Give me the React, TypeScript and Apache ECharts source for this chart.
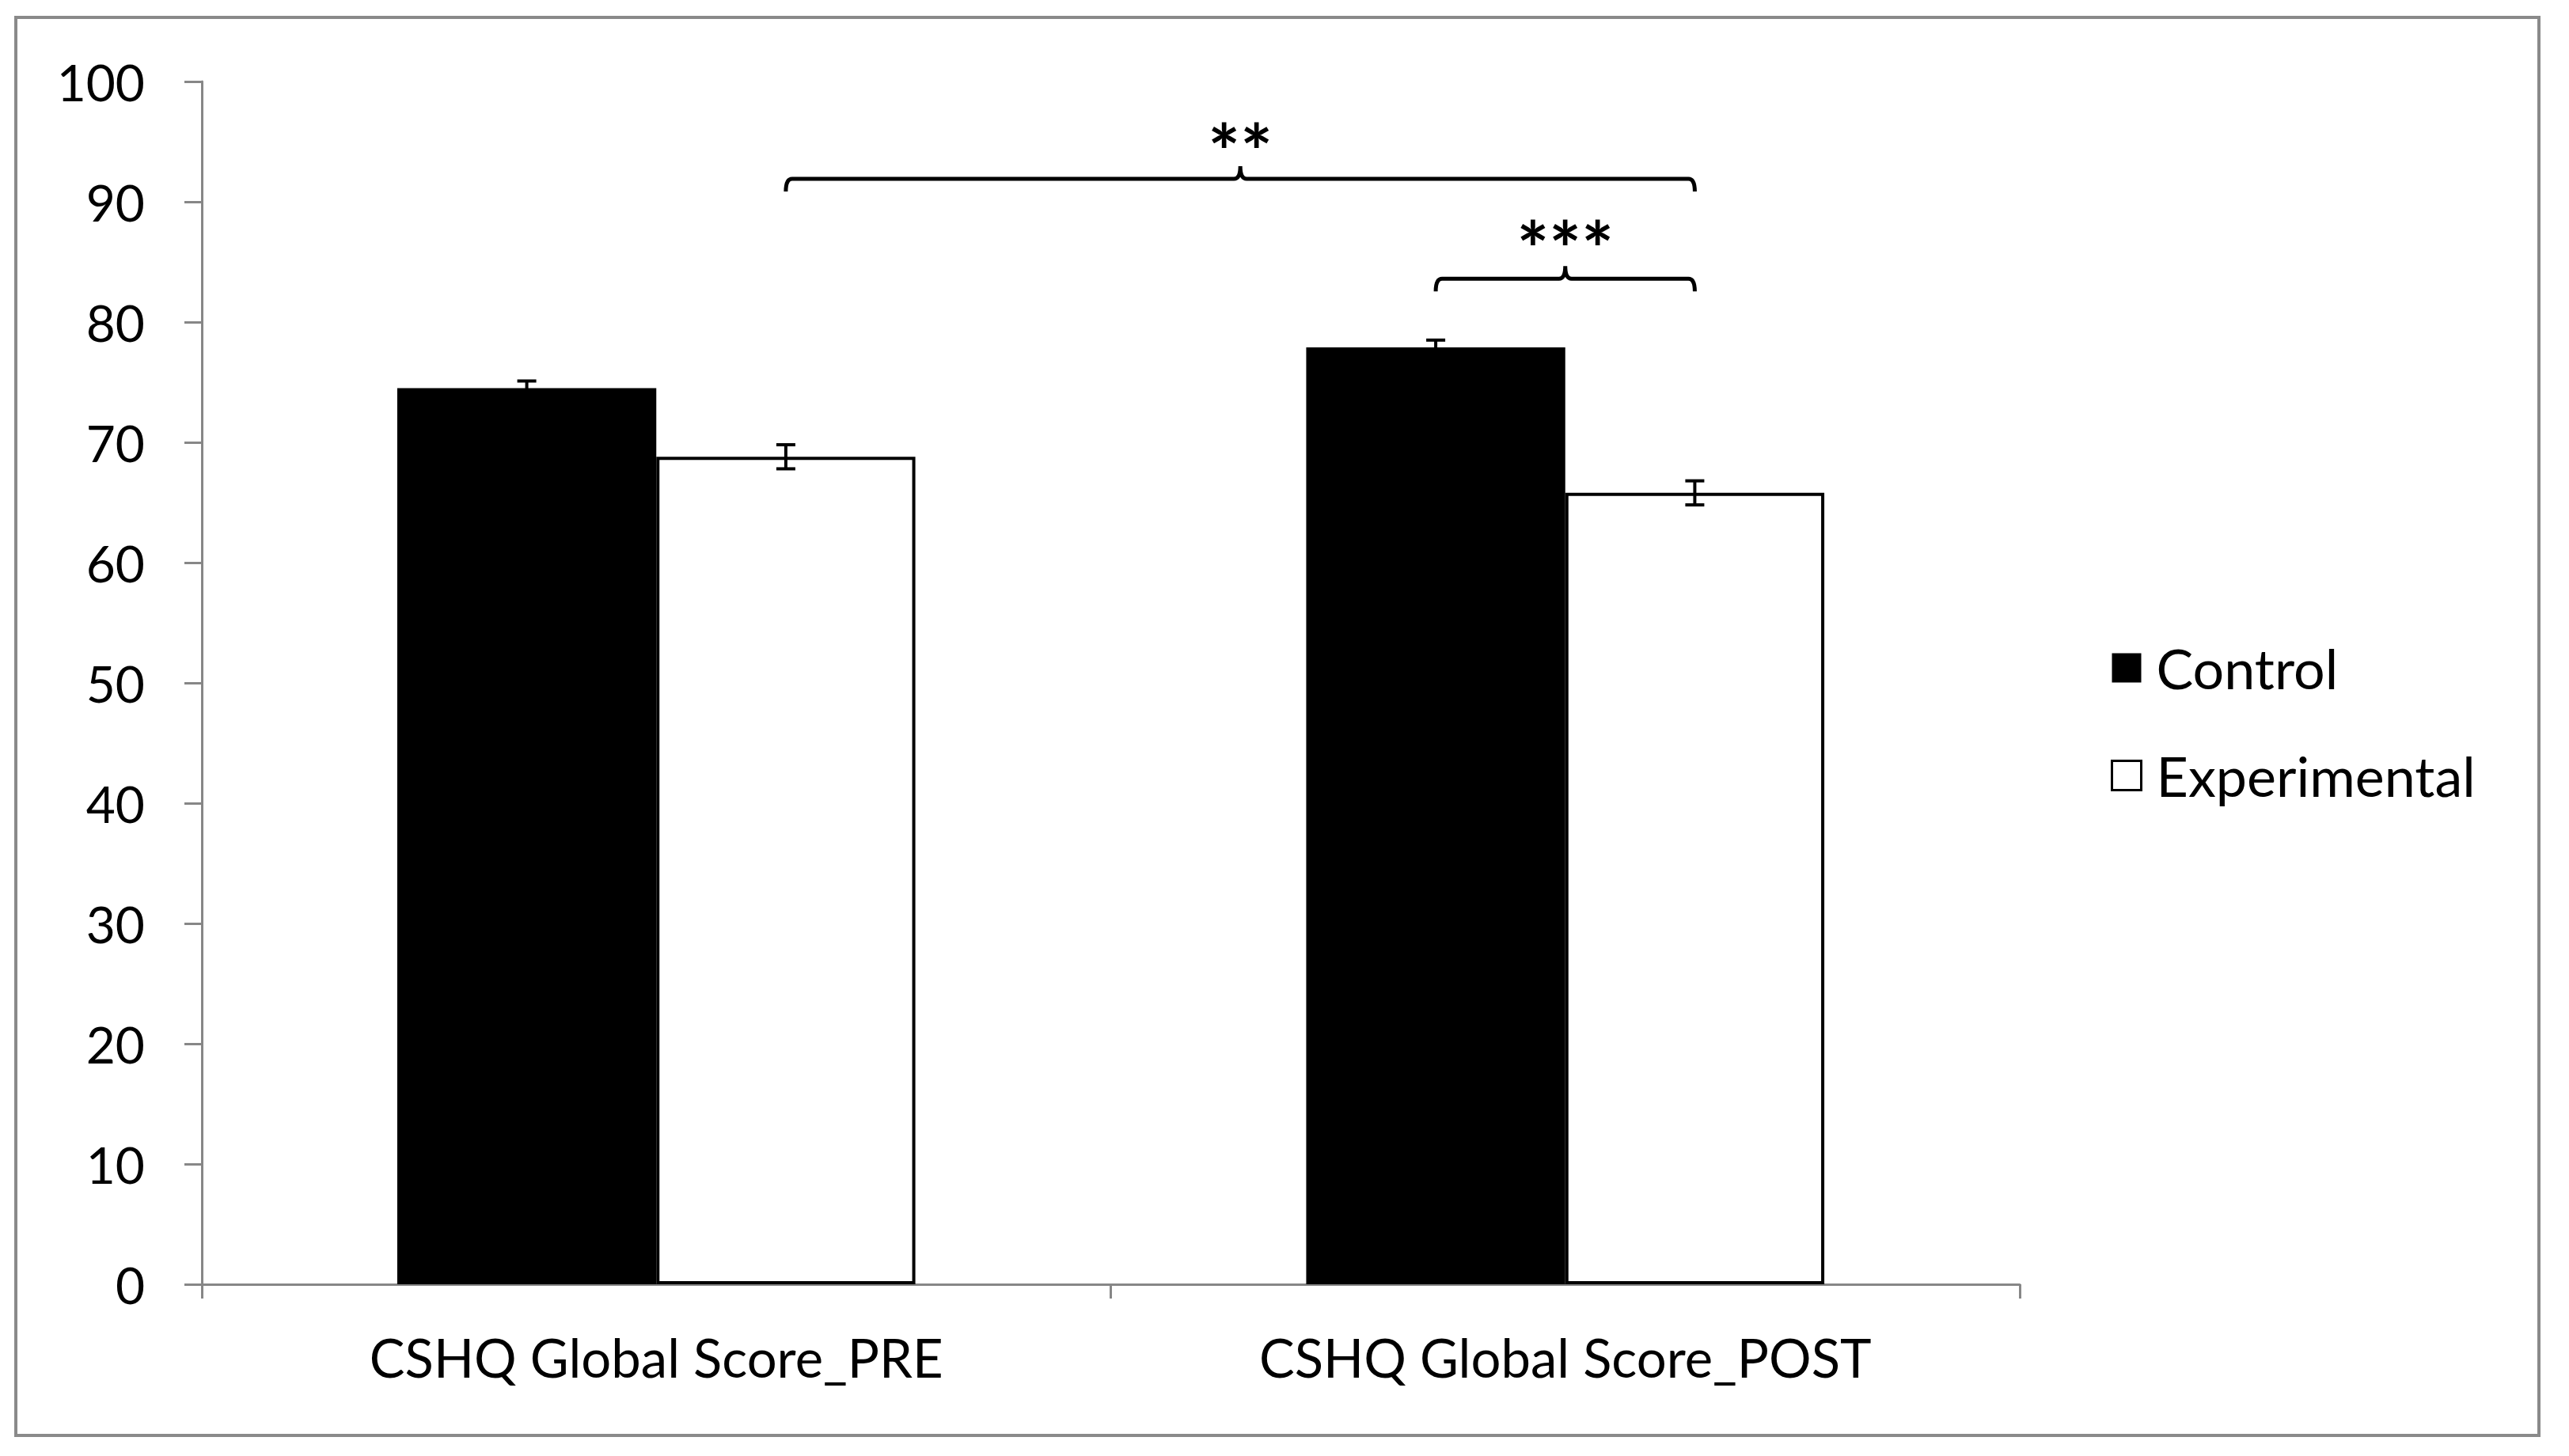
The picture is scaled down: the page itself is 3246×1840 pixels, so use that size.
import React, { useEffect, useRef } from "react";
import * as echarts from "echarts";

// ---- data ----
const categories = ["CSHQ Global Score_PRE", "CSHQ Global Score_POST"];
const seriesNames = ["Control", "Experimental"];
const controlMeans = [74.5, 77.9];
const controlErrors = [0.6, 0.6];
const experimentalMeans = [68.8, 65.8];
const experimentalErrors = [1.0, 1.0];
const yMin = 0;
const yMax = 100;
const yInterval = 10;
// significance brackets: from (category, series side) to (category, series side), bracket level, label level
const bracketFromCat = [0, 1];
const bracketFromSide = [1, 0];
const bracketToCat = [1, 1];
const bracketToSide = [1, 1];
const bracketLevel = [91.9, 83.6];
const bracketLabelLevel = [94.3, 86.2];
const bracketLabels = ["**", "***"];

const FONT = "Lato";
const GAP = 0.43;

function sideOffset(api: any, side: number) {
  const band = api.size([1, 0])[0];
  const bw = (band * (1 - GAP)) / 2;
  return side === 0 ? -bw / 2 : bw / 2;
}

function errorSeries(means: number[], errs: number[], side: number) {
  return {
    type: "custom",
    name: seriesNames[side] + " SE",
    silent: true,
    z: 5,
    data: means.map((m, i) => [i, m - errs[i], m + errs[i]]),
    encode: { x: 0, y: [1, 2] },
    renderItem: (params: any, api: any) => {
      const cat = api.value(0);
      const lo = api.coord([cat, api.value(1)]);
      const hi = api.coord([cat, api.value(2)]);
      const x = lo[0] + sideOffset(api, side);
      const cap = 12;
      const style = { stroke: "#000", lineWidth: 4, fill: null };
      return {
        type: "group",
        children: [
          { type: "line", shape: { x1: x, y1: lo[1], x2: x, y2: hi[1] }, style },
          { type: "line", shape: { x1: x - cap, y1: hi[1], x2: x + cap, y2: hi[1] }, style },
          { type: "line", shape: { x1: x - cap, y1: lo[1], x2: x + cap, y2: lo[1] }, style },
        ],
      };
    },
  };
}

export default function App() {
  const ref = useRef<HTMLDivElement>(null);
  useEffect(() => {
    if (!ref.current) return;
    const chart = echarts.init(ref.current, null, { renderer: "svg" });
    const bracketData = bracketLevel.map((lv, i) => [
      bracketFromCat[i],
      bracketFromSide[i],
      bracketToCat[i],
      bracketToSide[i],
      lv,
      bracketLabelLevel[i],
    ]);
    const option: any = {
      animation: false,
      backgroundColor: "#fff",
      textStyle: { fontFamily: FONT },
      graphic: [
        {
          type: "rect",
          shape: { x: 20, y: 22, width: 3188, height: 1792 },
          style: { fill: "none", stroke: "#8a8a8a", lineWidth: 4 },
          silent: true,
          z: -1,
        },
      ],
      grid: { left: 255, right: 694, top: 103, bottom: 217, containLabel: false },
      legend: {
        orient: "vertical",
        left: 2662,
        top: 804,
        itemWidth: 37,
        itemHeight: 37,
        itemGap: 66,
        icon: "rect",
        selectedMode: false,
        textStyle: { fontFamily: FONT, fontSize: 70, lineHeight: 70, color: "#000", padding: [0, 0, 0, 14] },
        data: [
          { name: "Control", itemStyle: { color: "#000", borderWidth: 0 } },
          { name: "Experimental", itemStyle: { color: "#fff", borderColor: "#000", borderWidth: 3 } },
        ],
      },
      xAxis: {
        type: "category",
        data: categories,
        axisLine: { lineStyle: { color: "#878787", width: 3 } },
        axisTick: { show: true, length: 18, lineStyle: { color: "#878787", width: 3 } },
        axisLabel: { fontFamily: FONT, fontSize: 67, color: "#000", margin: 58 },
        splitLine: { show: false },
      },
      yAxis: {
        type: "value",
        min: yMin,
        max: yMax,
        interval: yInterval,
        axisLine: { show: true, lineStyle: { color: "#878787", width: 3 } },
        axisTick: { show: true, length: 22, lineStyle: { color: "#878787", width: 3 } },
        axisLabel: { fontFamily: FONT, fontSize: 64, color: "#000", margin: 72 },
        splitLine: { show: false },
      },
      series: [
        {
          type: "bar",
          name: "Control",
          data: controlMeans,
          barGap: "0%",
          barCategoryGap: GAP * 100 + "%",
          itemStyle: { color: "#000" },
          z: 2,
        },
        {
          type: "bar",
          name: "Experimental",
          data: experimentalMeans,
          barGap: "0%",
          barCategoryGap: GAP * 100 + "%",
          itemStyle: { color: "#fff", borderColor: "#000", borderWidth: 4 },
          z: 2,
        },
        errorSeries(controlMeans, controlErrors, 0),
        errorSeries(experimentalMeans, experimentalErrors, 1),
        {
          type: "custom",
          name: "brackets",
          silent: true,
          z: 6,
          data: bracketData,
          encode: { x: 0, y: 5 },
          renderItem: (params: any, api: any) => {
            const lv = api.value(4);
            const p1 = api.coord([api.value(0), lv]);
            const p2 = api.coord([api.value(2), lv]);
            const pl = api.coord([api.value(0), api.value(5)]);
            const x1 = p1[0] + sideOffset(api, api.value(1));
            const x2 = p2[0] + sideOffset(api, api.value(3));
            const y = p1[1];
            const xm = (x1 + x2) / 2;
            const drop = 16;
            const rise = 16;
            const r = 8;
            const d =
              `M ${x1} ${y + drop} Q ${x1} ${y} ${x1 + r} ${y} L ${xm - r} ${y} Q ${xm} ${y} ${xm} ${y - rise} ` +
              `Q ${xm} ${y} ${xm + r} ${y} L ${x2 - r} ${y} Q ${x2} ${y} ${x2} ${y + drop}`;
            return {
              type: "group",
              children: [
                { type: "path", shape: { pathData: d }, style: { stroke: "#000", lineWidth: 5, fill: null } },
                {
                  type: "text",
                  x: xm,
                  y: pl[1],
                  style: {
                    text: bracketLabels[params.dataIndex],
                    fontFamily: FONT,
                    fontSize: 96,
                    fontWeight: "bold",
                    fill: "#000",
                    align: "center",
                    verticalAlign: "middle",
                  },
                },
              ],
            };
          },
        },
      ],
    };
    chart.setOption(option);
    return () => chart.dispose();
  }, []);
  return (
    <div
      ref={ref}
      style={{ position: "absolute", left: 0, top: 0, width: 3246, height: 1840, background: "#fff" }}
    />
  );
}
